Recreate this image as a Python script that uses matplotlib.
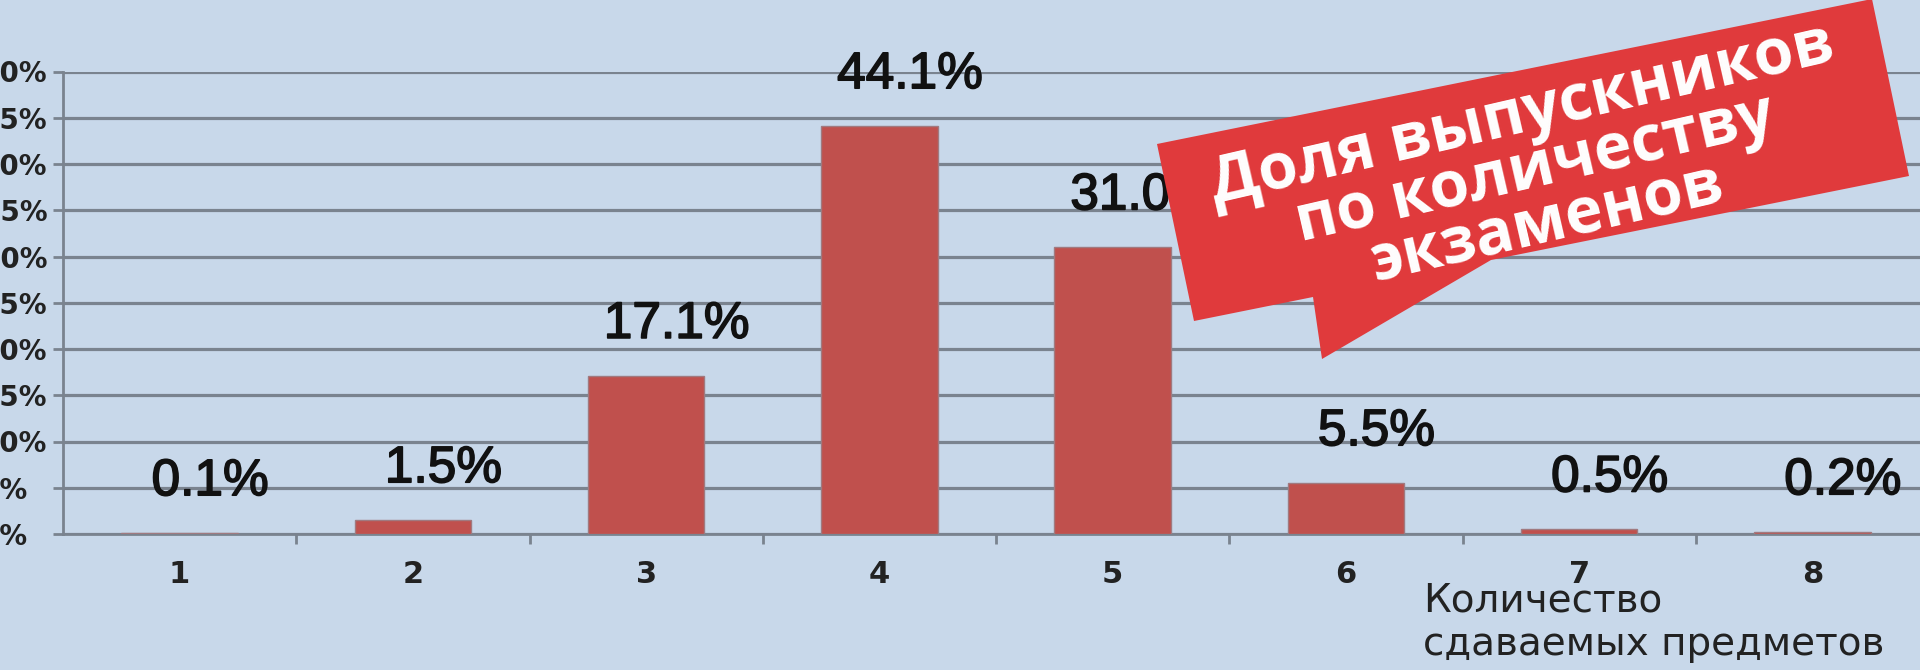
import matplotlib.pyplot as plt
import matplotlib.patheffects as pe
from matplotlib import font_manager as fm
from matplotlib.patches import Polygon
from matplotlib.ticker import FixedLocator

# данные: доля выпускников по количеству сдаваемых предметов
exam_counts = [1, 2, 3, 4, 5, 6, 7, 8]
share_pct = [0.1, 1.5, 17.1, 44.1, 31.0, 5.5, 0.5, 0.2]
value_labels = ['0.1%', '1.5%', '17.1%', '44.1%', '31.0%', '5.5%', '0.5%', '0.2%']
y_ticks = [0, 5, 10, 15, 20, 25, 30, 35, 40, 45, 50]

banner_title = 'Доля выпускников\nпо количеству\nэкзаменов'
x_title = 'Количество\nсдаваемых предметов'

W, H = 1920, 670
bg = '#c8d8ea'
grid_c = '#7a838f'
bar_c = '#c0504d'
banner_c = '#e03a3c'


def bold_family(candidates):
    # первый шрифт из списка, у которого реально есть жирное начертание
    for name in candidates:
        for f in fm.fontManager.ttflist:
            w = f.weight
            if f.name == name and (w == 'bold' or (isinstance(w, int) and w >= 700)):
                return name
    return 'DejaVu Sans'


banner_font = bold_family(['Noto Sans', 'Open Sans', 'Lato', 'Roboto'])

fig = plt.figure(figsize=(W / 100, H / 100), dpi=100, facecolor=bg)
# оси немного выходят за правый край, как на обрезанном скриншоте
ax = fig.add_axes([63 / W, (H - 534) / H, (1929 - 63) / W, 462.5 / H])
ax.set_facecolor(bg)

ax.bar(exam_counts, share_pct, width=0.5, color=bar_c,
       edgecolor='#a07a80', linewidth=1, zorder=3)

thick = [pe.withStroke(linewidth=1.2, foreground='#111111')]
for x, v, lab in zip(exam_counts, share_pct, value_labels):
    t = ax.annotate(lab, (x, v), xytext=(22, 37), textcoords='offset points',
                    ha='center', va='center', fontsize=37,
                    family='Liberation Sans', color='#111111', zorder=4,
                    annotation_clip=False)
    t.set_path_effects(thick)

ax.set_xlim(0.5, 8.5)
ax.set_ylim(0, 50)

# подписи оси Y выровнены влево и частично срезаны краем картинки
ax.set_yticks(y_ticks)
ax.set_yticklabels([f'{t}%' for t in y_ticks], ha='left')
ax.yaxis.grid(True, color=grid_c, linewidth=2.3)
ax.set_axisbelow(True)

ax.set_xticks(exam_counts)
ax.set_xticklabels([str(c) for c in exam_counts])
ax.xaxis.set_minor_locator(FixedLocator([c + 0.5 for c in exam_counts[:-1]]))

ax.tick_params(axis='y', length=7.2, width=2, color=grid_c, pad=52,
               labelsize=20, labelcolor='#222222')
ax.tick_params(axis='x', which='major', length=0, pad=19,
               labelsize=22, labelcolor='#222222')
ax.tick_params(axis='x', which='minor', length=7.2, width=2, color=grid_c)
for lab in ax.get_xticklabels() + ax.get_yticklabels():
    lab.set_fontweight('bold')

for s in ['top', 'right']:
    ax.spines[s].set_visible(False)
for s in ['left', 'bottom']:
    ax.spines[s].set_color(grid_c)
    ax.spines[s].set_linewidth(2)

fig.text(1423 / W, 1 - 581 / H, x_title, ha='left', va='top',
         fontsize=28, color='#222222', linespacing=1.2)

# красная плашка-выноска
shape = [(1157, 144), (1872, -1), (1909, 176), (1491, 260),
         (1322, 359), (1313, 297), (1194, 321)]
banner = Polygon([(px / W, 1 - py / H) for px, py in shape], closed=True,
                 transform=fig.transFigure, facecolor=banner_c,
                 edgecolor='none', zorder=10)
fig.add_artist(banner)
fig.text(1535 / W, 1 - 170 / H, banner_title, ha='center', va='center',
         multialignment='center', rotation=13, rotation_mode='anchor',
         fontsize=46, fontweight='bold', family=banner_font, color='white',
         linespacing=0.82, zorder=11)

fig.savefig('out.png', dpi=100, facecolor=bg)
